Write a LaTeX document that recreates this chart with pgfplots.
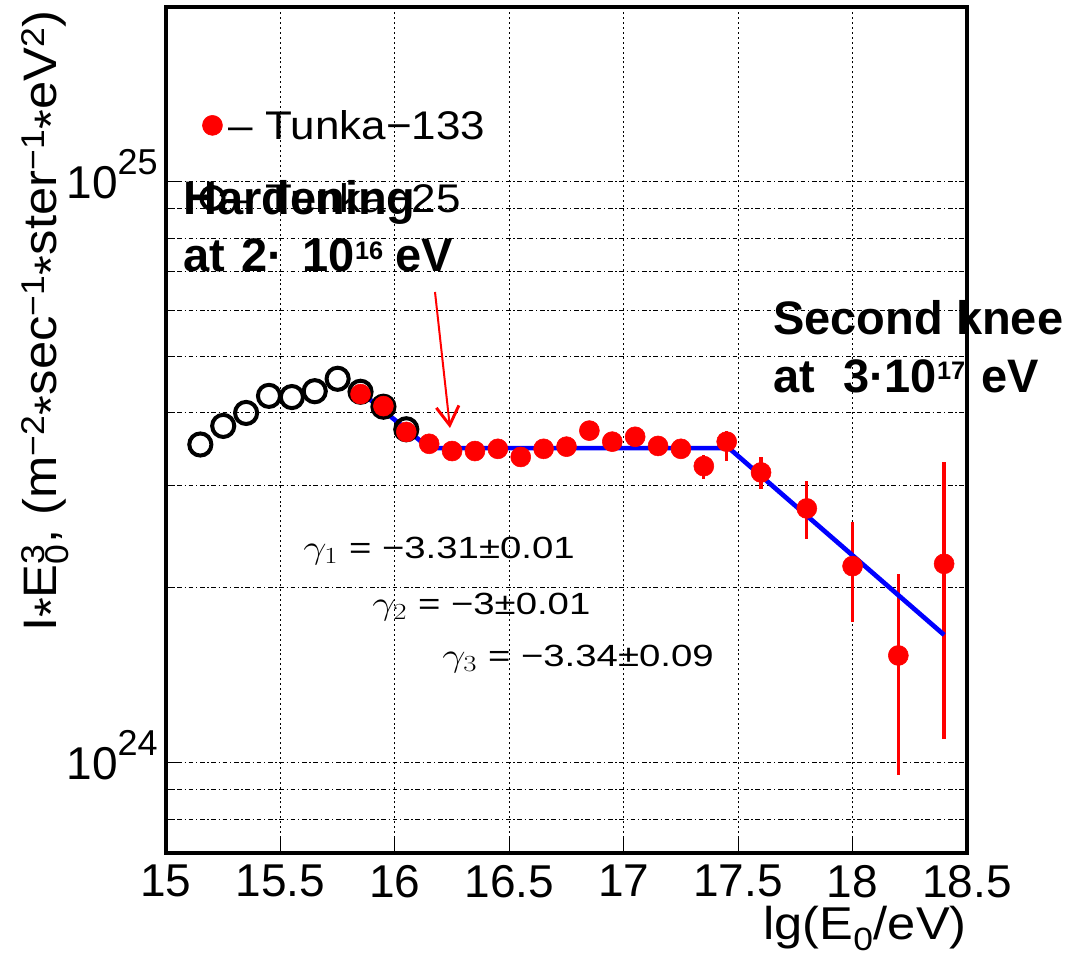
\documentclass[border=0pt]{standalone}
\usepackage{fontspec}
\setmainfont{Liberation Sans}
\usepackage{graphicx}
\usepackage{pgfplots}
\usepackage{pgfplotstable}
\pgfplotsset{compat=1.18}
\usetikzlibrary{arrows.meta}
\newcommand{\st}{\raisebox{-0.22em}{*}}
\newcommand{\tickfont}{\fontsize{34.5pt}{36pt}\selectfont}

\pgfplotstableread{
x y
15.15 3.53e24
15.25 3.80e24
15.35 4.00e24
15.45 4.28e24
15.55 4.26e24
15.65 4.36e24
15.75 4.58e24
15.85 4.35e24
15.95 4.10e24
16.05 3.75e24
}\tunkaTwentyFive

\pgfplotstableread{
x y ep em
15.85 4.31e24 0 0
15.95 4.11e24 0 0
16.05 3.71e24 0 0
16.15 3.54e24 0 0
16.25 3.44e24 0 0
16.35 3.44e24 0 0
16.45 3.47e24 0 0
16.55 3.36e24 0 0
16.65 3.47e24 0 0
16.75 3.50e24 0 0
16.85 3.73e24 0 0
16.95 3.57e24 0 0
17.05 3.64e24 0 0
17.15 3.51e24 0 0
17.25 3.47e24 0 0
17.35 3.24e24 0.14e24 0.16e24
17.45 3.57e24 0.16e24 0.26e24
17.60 3.16e24 0.20e24 0.20e24
17.80 2.74e24 0.31e24 0.31e24
18.00 2.18e24 0.42e24 0.43e24
18.20 1.53e24 0.58e24 0.577e24
18.40 2.20e24 1.10e24 1.10e24
}\tunkaOneThreeThree

\begin{document}
\begin{tikzpicture}
\useasboundingbox (0,0) rectangle (804pt,717.75pt);
\begin{axis}[
  at={(124.5pt,78pt)}, anchor=south west,
  scale only axis, width=600.75pt, height=634.5pt,
  xmin=15, xmax=18.5, ymode=log, ymin=7e23, ymax=2e25,
  xtick={15,15.5,16,16.5,17,17.5,18,18.5},
  xticklabels={15,15.5,16,16.5,17,17.5,18,18.5},
  ytick={1e24,1e25},
  yticklabels={{10\raisebox{18pt}{\fontsize{27pt}{27pt}\selectfont 24}},{10\raisebox{18pt}{\fontsize{27pt}{27pt}\selectfont 25}}},
  minor ytick={7e23,8e23,9e23,2e24,3e24,4e24,5e24,6e24,7e24,8e24,9e24,2e25},
  grid=both,
  major x grid style={black, line width=0.75pt, dash pattern=on 1.5pt off 2.2pt},
  major y grid style={black, line width=0.75pt, dash pattern=on 3.5pt off 2pt on 1pt off 2pt},
  minor y grid style={black, line width=0.75pt, dash pattern=on 3.5pt off 2pt on 1pt off 2pt},
  tick pos=left,
  tick style={black, line width=0.75pt},
  major tick length=12pt, minor tick length=7pt,
  axis line style={line width=3pt},
  tick label style={font=\tickfont},
  xticklabel style={anchor=north, inner sep=0pt, yshift=-9pt},
  yticklabel style={anchor=base east, inner sep=0pt, xshift=-6pt, yshift=-12.4pt},
  xlabel={\scalebox{1.1}[1]{lg(E\textsubscript{0}/eV)}},
  xlabel style={at={(rel axis cs:1,0)}, anchor=base east, inner sep=0pt, yshift=-65.25pt, font=\tickfont},
  reverse legend,
  legend cell align=left,
  legend image code/.code={\draw[#1] plot coordinates {(13pt,-0.5pt)};},
  legend style={draw=none, fill=none, at={(axis cs:15.136,1.344e25)}, anchor=north west,
    font=\fontsize{30pt}{32pt}\selectfont, row sep=32.5pt,
    nodes={inner sep=0pt, text height=22pt, text depth=0pt}},
]
\addplot[only marks, mark=o, mark size=8.3pt, mark options={black, line width=3pt}] table[x=x,y=y] {\tunkaTwentyFive};
\addlegendentry{\hspace{4pt}\scalebox{1.1}[1]{– Tunka−25}}
\addplot[only marks, color=red, mark=*, mark size=7.5pt, mark options={draw=red, fill=red},
  error bars/.cd, y dir=both, y explicit, error bar style={red, line width=2.5pt}, error mark=none]
  table[x=x, y=y, y error plus=ep, y error minus=em] {\tunkaOneThreeThree};
\addlegendentry{\hspace{4pt}\scalebox{1.1}[1]{– Tunka−133}}
\addplot[blue, line width=3.5pt, forget plot] coordinates {(15.85,4.35e24) (16.15,3.48e24) (17.46,3.48e24) (18.40,1.66e24)};
\end{axis}
% y label
\node[rotate=90, anchor=base east, inner sep=0pt, font=\fontsize{35.25pt}{36pt}\selectfont] at (42.75pt,710.25pt)
  {\scalebox{1.08}[1]{I\st E\rlap{\textsubscript{0}}\textsuperscript{3}, (m\textsuperscript{−2}\st sec\textsuperscript{−1}\st ster\textsuperscript{−1}\st eV\textsuperscript{2})}};
% annotations
\node[anchor=base west, inner sep=0pt, font=\bfseries\fontsize{35.25pt}{36pt}\selectfont] at (137.25pt,556.5pt) {Hardening};
\node[anchor=base west, inner sep=0pt, font=\bfseries\fontsize{35.25pt}{36pt}\selectfont] at (137.25pt,513.75pt)
  {at\hspace{12pt}2\textperiodcentered\hspace{15pt}10\raisebox{9pt}{\fontsize{19pt}{19pt}\selectfont 16}\hspace{9pt}eV};
\node[anchor=base west, inner sep=0pt, font=\bfseries\fontsize{35.25pt}{36pt}\selectfont] at (579.75pt,466.5pt) {Second knee};
\node[anchor=base west, inner sep=0pt, font=\bfseries\fontsize{35.25pt}{36pt}\selectfont] at (579.75pt,423pt)
  {at\hspace{21pt}3\textperiodcentered 10\raisebox{9.75pt}{\fontsize{19pt}{19pt}\selectfont 17}\hspace{12pt}eV};
\draw[red, line width=1.5pt, -{Straight Barb[length=14pt, width=17pt, line width=2.2pt]}] (326.25pt,498.75pt) -- (337.5pt,396.75pt);
\node[anchor=base west, inner sep=0pt, font=\fontsize{23pt}{24pt}\selectfont] at (227.25pt,298.5pt) {\scalebox{1.25}[1]{$\gamma_{1}$ = −3.31±0.01}};
\node[anchor=base west, inner sep=0pt, font=\fontsize{23pt}{24pt}\selectfont] at (279pt,256.5pt) {\scalebox{1.25}[1]{$\gamma_{2}$ = −3±0.01}};
\node[anchor=base west, inner sep=0pt, font=\fontsize{23pt}{24pt}\selectfont] at (331.5pt,217.5pt) {\scalebox{1.25}[1]{$\gamma_{3}$ = −3.34±0.09}};
\end{tikzpicture}
\end{document}
